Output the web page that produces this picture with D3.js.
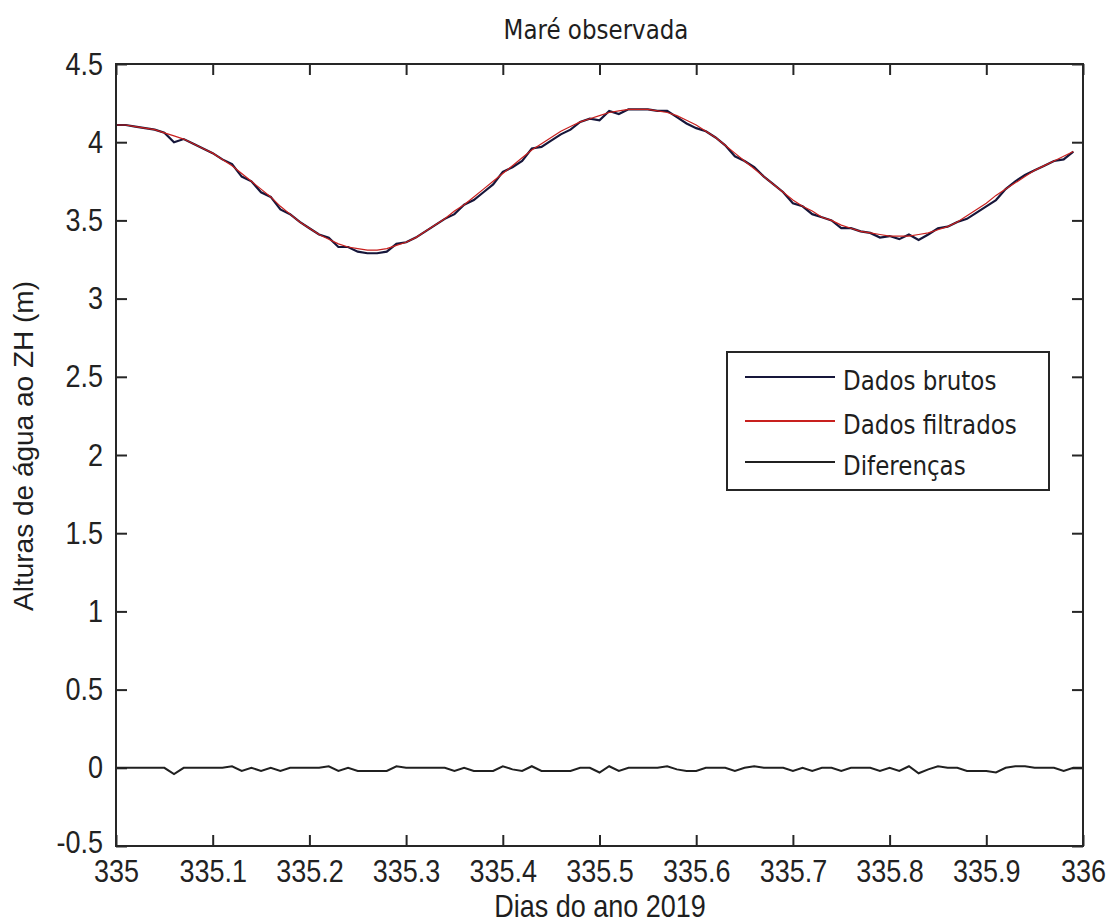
<!DOCTYPE html>
<html>
<head>
<meta charset="utf-8">
<script src="https://cdn.jsdelivr.net/npm/d3@7/dist/d3.min.js"></script>
<style>
body { margin: 0; background: #fff; }
.axis path { display: none; }
.axis line { stroke: #262626; stroke-width: 2; }
.axis text { font-family: "Liberation Sans", Arial, sans-serif; font-size: 27px; fill: #222; }
</style>
</head>
<body>
<svg id="chart" width="1108" height="923"></svg>
<script>
// filtered tide, one value every 0.01 day from 335.00 to 335.99
var filtered = [
    4.11, 4.11, 4.10, 4.09, 4.08, 4.06, 4.04, 4.02, 3.99, 3.96,
    3.93, 3.89, 3.85, 3.80, 3.75, 3.70, 3.65, 3.59, 3.54, 3.49,
    3.45, 3.41, 3.38, 3.35, 3.33, 3.32, 3.31, 3.31, 3.32, 3.34,
    3.36, 3.39, 3.43, 3.47, 3.51, 3.56, 3.60, 3.65, 3.70, 3.75,
    3.80, 3.85, 3.90, 3.95, 3.99, 4.03, 4.07, 4.10, 4.13, 4.15,
    4.17, 4.19, 4.20, 4.21, 4.21, 4.21, 4.20, 4.19, 4.17, 4.14,
    4.11, 4.07, 4.03, 3.98, 3.93, 3.88, 3.83, 3.78, 3.73, 3.68,
    3.63, 3.59, 3.56, 3.52, 3.50, 3.47, 3.45, 3.43, 3.42, 3.41,
    3.40, 3.40, 3.40, 3.41, 3.42, 3.44, 3.46, 3.49, 3.53, 3.57,
    3.61, 3.66, 3.70, 3.74, 3.78, 3.82, 3.85, 3.88, 3.91, 3.94
];
// raw minus filtered, one value every 0.01 day from 335.00 to 336.00
var diffs = [
    0, 0, 0, 0, 0, 0, -0.04, 0, 0, 0,
    0, 0, 0.01, -0.02, 0, -0.02, 0, -0.02, 0, 0,
    0, 0, 0.01, -0.02, 0, -0.02, -0.02, -0.02, -0.02, 0.01,
    0, 0, 0, 0, 0, -0.02, 0, -0.02, -0.02, -0.02,
    0.01, -0.01, -0.02, 0.01, -0.02, -0.02, -0.02, -0.02, 0, 0,
    -0.03, 0.01, -0.02, 0, 0, 0, 0, 0.01, -0.01, -0.02,
    -0.02, 0, 0, 0, -0.02, 0, 0.01, 0, 0, 0,
    -0.02, 0, -0.02, 0, 0, -0.02, 0, 0, 0, -0.02,
    0, -0.02, 0.01, -0.035, -0.01, 0.01, 0, 0, -0.02, -0.02,
    -0.02, -0.03, 0, 0.01, 0.01, 0, 0, 0, -0.02, 0,
    0
];
var startDay = 335;
var dayStep = 0.01;
var xTicks = [335, 335.1, 335.2, 335.3, 335.4, 335.5, 335.6, 335.7, 335.8, 335.9, 336];
var yTicks = [-0.5, 0, 0.5, 1, 1.5, 2, 2.5, 3, 3.5, 4, 4.5];
var seriesNames = ["Dados brutos", "Dados filtrados", "Diferenças"];
var seriesColors = ["#16163a", "#c8201e", "#202020"];

var stretch = 1.18;
var svg = d3.select("#chart");
var x = d3.scaleLinear().domain([335, 336]).range([116, 1083]);
var y = d3.scaleLinear().domain([-0.5, 4.5]).range([846, 64]);

var filtPts = filtered.map(function (v, i) { return {t: startDay + i * dayStep, v: v}; });
var rawPts = filtered.map(function (v, i) { return {t: startDay + i * dayStep, v: v + diffs[i]}; });
var diffPts = diffs.map(function (v, i) { return {t: startDay + i * dayStep, v: v}; });

function addText(px, py, str, family, size, anchor, sy) {
    return svg.append("text")
            .attr("transform", "translate(" + px + "," + py + ") scale(1," + sy + ")")
            .attr("text-anchor", anchor)
            .style("font-family", family)
            .style("font-size", size + "px")
            .style("fill", "#1e1e1e")
            .text(str);
}

// axes, ticks pointing inwards on all four sides
var plainNum = function (d) { return String(+d.toFixed(1)); };
svg.append("g").attr("class", "axis")
        .attr("transform", "translate(0,846)")
        .call(d3.axisBottom(x).tickValues(xTicks).tickFormat(plainNum).tickSizeInner(-11).tickSizeOuter(0).tickPadding(11));
svg.append("g").attr("class", "axis")
        .attr("transform", "translate(0,64)")
        .call(d3.axisTop(x).tickValues(xTicks).tickFormat("").tickSizeInner(-11).tickSizeOuter(0));
svg.append("g").attr("class", "axis")
        .attr("transform", "translate(116,0)")
        .call(d3.axisLeft(y).tickValues(yTicks).tickFormat(plainNum).tickSizeInner(-11).tickSizeOuter(0).tickPadding(13));
svg.append("g").attr("class", "axis")
        .attr("transform", "translate(1083,0)")
        .call(d3.axisRight(y).tickValues(yTicks).tickFormat("").tickSizeInner(-11).tickSizeOuter(0));
svg.selectAll(".axis text").attr("transform", "scale(1," + stretch + ")");
// lowest y label sits just above the first x label, as in the original
svg.selectAll(".axis text").filter(function (d) { return d === -0.5; }).attr("dy", "0.2em");

// the series
var line = d3.line()
        .x(function (d) { return x(d.t); })
        .y(function (d) { return y(d.v); });
svg.append("path").datum(rawPts)
        .attr("d", line).attr("fill", "none")
        .attr("stroke", seriesColors[0]).attr("stroke-width", 2.2);
svg.append("path").datum(filtPts)
        .attr("d", line).attr("fill", "none")
        .attr("stroke", seriesColors[1]).attr("stroke-width", 1.2);
svg.append("path").datum(diffPts)
        .attr("d", line).attr("fill", "none")
        .attr("stroke", seriesColors[2]).attr("stroke-width", 2);

// box
svg.append("rect")
        .attr("x", x(335)).attr("y", y(4.5))
        .attr("width", x(336) - x(335)).attr("height", y(-0.5) - y(4.5))
        .attr("fill", "none").attr("stroke", "#262626").attr("stroke-width", 2);

// titles
addText(596, 39, "Maré observada", "DejaVu Sans", 23, "middle", stretch);
addText(600, 917, "Dias do ano 2019", "Liberation Sans", 27, "middle", 1.14);
svg.append("text")
        .attr("transform", "translate(33,446) rotate(-90)")
        .attr("text-anchor", "middle")
        .style("font-family", "Liberation Sans")
        .style("font-size", "28px")
        .style("fill", "#1e1e1e")
        .text("Alturas de água ao ZH (m)");

// legend
var legend = svg.append("g").attr("transform", "translate(727,352)");
legend.append("rect")
        .attr("width", 322).attr("height", 138)
        .attr("fill", "#fff").attr("stroke", "#262626").attr("stroke-width", 2);
var legRows = [25, 69, 110];
seriesNames.forEach(function (name, i) {
    legend.append("line")
            .attr("x1", 18).attr("x2", 108)
            .attr("y1", legRows[i]).attr("y2", legRows[i])
            .attr("stroke", seriesColors[i]).attr("stroke-width", 2);
    legend.append("text")
            .attr("transform", "translate(116," + (legRows[i] + 13) + ") scale(1," + stretch + ")")
            .style("font-family", "DejaVu Sans")
            .style("font-size", "23px")
            .style("fill", "#1e1e1e")
            .text(name);
});
</script>
</body>
</html>
